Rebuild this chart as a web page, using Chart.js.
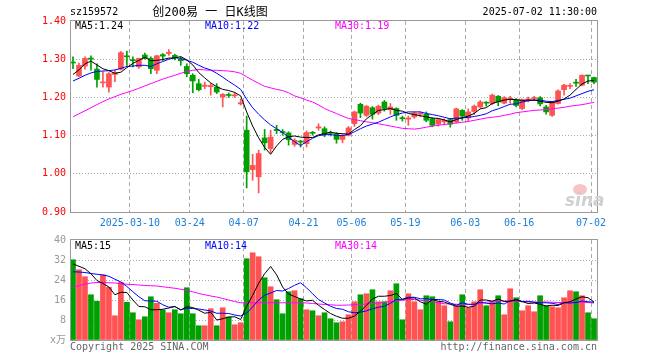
<!DOCTYPE html>
<html><head><meta charset="utf-8">
<script src="https://cdn.jsdelivr.net/npm/chart.js@4.4.1/dist/chart.umd.min.js"></script>
<style>
html,body{margin:0;padding:0;background:#fff;}
#wrap{position:relative;width:660px;height:360px;overflow:hidden;background:#fff;}
canvas{position:absolute;left:0;}
.t{position:absolute;font-family:'DejaVu Sans Mono',monospace;font-size:10px;line-height:12px;white-space:pre;}
</style></head><body>
<div id="wrap">
<canvas id="k" width="660" height="236" style="top:0"></canvas>
<canvas id="v" width="660" height="140" style="top:220px"></canvas>
<div class="t" style="left:70px;top:6px;color:#000">sz159572</div>
<div class="t" style="left:140px;width:140px;top:5px;text-align:center;font-size:12px;line-height:14px;font-family:'DejaVu Sans Mono','Noto Sans CJK SC';color:#000">创200易 一 日K线图</div>
<div class="t" style="right:63px;top:6px;color:#000">2025-07-02 11:30:00</div>
<div class="t" style="left:75px;top:20px;color:#000">MA5:1.24</div>
<div class="t" style="left:205px;top:20px;color:#0000ff">MA10:1.22</div>
<div class="t" style="left:335px;top:20px;color:#ff00ff">MA30:1.19</div>
<div class="t" style="left:75px;top:240px;color:#000">MA5:15</div>
<div class="t" style="left:205px;top:240px;color:#0000ff">MA10:14</div>
<div class="t" style="left:335px;top:240px;color:#ff00ff">MA30:14</div>
<div class="t" style="left:70px;top:341px;color:#666">Copyright 2025 SINA.COM</div>
<div class="t" style="right:63px;top:341px;color:#666">http://finance.sina.com.cn</div>
<div style="position:absolute;left:573px;top:184px;width:14px;height:11px;border-radius:50%;background:#f6c4c4;"></div>
<div class="t" style="left:565px;top:192px;font-family:'DejaVu Sans';font-size:17px;line-height:17px;font-style:italic;font-weight:bold;color:#d0d0d0">sina</div>
</div>
<script>
const dates = ['2025-02-24','2025-02-25','2025-02-26','2025-02-27','2025-02-28','2025-03-03','2025-03-04','2025-03-05','2025-03-06','2025-03-07',
'2025-03-10','2025-03-11','2025-03-12','2025-03-13','2025-03-14','2025-03-17','2025-03-18','2025-03-19','2025-03-20','2025-03-21',
'2025-03-24','2025-03-25','2025-03-26','2025-03-27','2025-03-28','2025-03-31','2025-04-01','2025-04-02','2025-04-03','2025-04-07',
'2025-04-08','2025-04-09','2025-04-10','2025-04-11','2025-04-14','2025-04-15','2025-04-16','2025-04-17','2025-04-18','2025-04-21',
'2025-04-22','2025-04-23','2025-04-24','2025-04-25','2025-04-28','2025-04-29','2025-04-30','2025-05-06','2025-05-07','2025-05-08',
'2025-05-09','2025-05-12','2025-05-13','2025-05-14','2025-05-15','2025-05-16','2025-05-19','2025-05-20','2025-05-21','2025-05-22',
'2025-05-23','2025-05-26','2025-05-27','2025-05-28','2025-05-29','2025-05-30','2025-06-03','2025-06-04','2025-06-05','2025-06-06',
'2025-06-09','2025-06-10','2025-06-11','2025-06-12','2025-06-13','2025-06-16','2025-06-17','2025-06-18','2025-06-19','2025-06-20',
'2025-06-23','2025-06-24','2025-06-25','2025-06-26','2025-06-27','2025-06-30','2025-07-01','2025-07-02'];

const tickLabels = ['2025-03-10','03-24','04-07','04-21','05-06','05-19','06-03','06-16','07-02'];

const opens = [1.292,1.256,1.282,1.303,1.274,1.238,1.227,1.260,1.274,1.309,
1.299,1.280,1.311,1.302,1.271,1.312,1.315,1.310,1.300,1.281,
1.258,1.236,1.229,1.228,1.227,1.201,1.207,1.204,1.183,1.114,
1.011,0.992,1.094,1.066,1.116,1.110,1.107,1.077,1.085,1.079,
1.108,1.120,1.118,1.108,1.105,1.090,1.101,1.131,1.182,1.153,
1.173,1.159,1.188,1.168,1.171,1.147,1.143,1.149,1.156,1.156,
1.144,1.130,1.136,1.142,1.136,1.166,1.146,1.163,1.175,1.187,
1.184,1.203,1.185,1.195,1.194,1.171,1.193,1.197,1.199,1.175,
1.153,1.184,1.220,1.229,1.240,1.232,1.258,1.252];

const highs = [1.306,1.290,1.306,1.309,1.288,1.267,1.265,1.271,1.320,1.321,
1.306,1.303,1.316,1.306,1.310,1.315,1.325,1.313,1.305,1.288,
1.262,1.247,1.240,1.236,1.236,1.210,1.212,1.212,1.196,1.151,
1.051,1.062,1.116,1.114,1.127,1.116,1.110,1.092,1.088,1.112,
1.111,1.131,1.123,1.112,1.108,1.103,1.124,1.164,1.185,1.179,
1.176,1.180,1.192,1.184,1.173,1.151,1.151,1.162,1.162,1.162,
1.147,1.145,1.144,1.145,1.172,1.168,1.170,1.180,1.192,1.189,
1.209,1.205,1.202,1.203,1.197,1.196,1.201,1.203,1.202,1.179,
1.190,1.220,1.234,1.236,1.247,1.259,1.258,1.253];

const lows = [1.275,1.254,1.274,1.271,1.227,1.227,1.214,1.241,1.272,1.284,
1.280,1.276,1.300,1.262,1.262,1.297,1.310,1.298,1.284,1.254,
1.212,1.217,1.223,1.206,1.210,1.175,1.200,1.200,1.180,0.963,
0.983,0.950,1.062,1.055,1.105,1.101,1.075,1.072,1.070,1.070,
1.101,1.114,1.097,1.099,1.080,1.081,1.099,1.124,1.147,1.150,
1.143,1.155,1.164,1.156,1.140,1.138,1.127,1.145,1.149,1.136,
1.123,1.125,1.128,1.122,1.133,1.140,1.139,1.155,1.172,1.177,
1.181,1.178,1.183,1.185,1.175,1.168,1.188,1.192,1.178,1.156,
1.150,1.182,1.206,1.223,1.229,1.230,1.236,1.236];

const closes = [1.290,1.284,1.302,1.300,1.247,1.240,1.262,1.265,1.317,1.306,
1.296,1.302,1.303,1.275,1.309,1.308,1.318,1.304,1.296,1.262,
1.243,1.220,1.232,1.231,1.214,1.208,1.205,1.206,1.186,1.005,
1.022,1.053,1.081,1.096,1.113,1.108,1.089,1.088,1.083,1.108,
1.106,1.123,1.103,1.106,1.090,1.101,1.120,1.162,1.159,1.177,
1.156,1.177,1.171,1.175,1.153,1.144,1.146,1.159,1.158,1.140,
1.127,1.142,1.140,1.130,1.170,1.151,1.162,1.177,1.188,1.185,
1.206,1.188,1.199,1.198,1.179,1.194,1.196,1.199,1.183,1.162,
1.188,1.217,1.232,1.231,1.237,1.258,1.256,1.240];

const ma5 = [1.260,1.272,1.288,1.295,1.285,1.275,1.270,1.263,1.266,1.278,
1.289,1.297,1.305,1.296,1.297,1.299,1.303,1.303,1.307,1.298,
1.285,1.265,1.251,1.238,1.228,1.221,1.218,1.213,1.204,1.162,
1.125,1.094,1.069,1.051,1.073,1.090,1.097,1.099,1.096,1.095,
1.095,1.102,1.105,1.109,1.106,1.105,1.104,1.116,1.126,1.144,
1.155,1.166,1.168,1.171,1.166,1.164,1.158,1.155,1.152,1.149,
1.146,1.145,1.141,1.136,1.142,1.147,1.151,1.158,1.170,1.173,
1.184,1.189,1.193,1.195,1.194,1.192,1.193,1.193,1.190,1.187,
1.186,1.190,1.196,1.206,1.221,1.235,1.243,1.244];

const ma10 = [1.243,1.250,1.258,1.264,1.268,1.269,1.270,1.272,1.276,1.281,
1.282,1.284,1.284,1.281,1.288,1.294,1.300,1.304,1.302,1.297,
1.292,1.284,1.277,1.272,1.263,1.253,1.242,1.232,1.221,1.195,
1.173,1.156,1.141,1.128,1.118,1.108,1.096,1.084,1.074,1.084,
1.093,1.100,1.102,1.103,1.100,1.100,1.103,1.110,1.118,1.125,
1.130,1.135,1.142,1.149,1.155,1.159,1.162,1.162,1.162,1.158,
1.155,1.152,1.148,1.144,1.146,1.146,1.148,1.150,1.153,1.157,
1.165,1.170,1.176,1.182,1.183,1.188,1.191,1.193,1.193,1.190,
1.189,1.192,1.195,1.198,1.204,1.210,1.216,1.220];

const ma30 = [1.149,1.157,1.165,1.173,1.181,1.189,1.196,1.202,1.208,1.213,
1.218,1.224,1.230,1.236,1.242,1.248,1.253,1.258,1.263,1.268,
1.271,1.273,1.272,1.271,1.271,1.270,1.269,1.267,1.263,1.254,
1.245,1.237,1.229,1.225,1.221,1.218,1.212,1.204,1.199,1.193,
1.188,1.180,1.171,1.164,1.158,1.151,1.145,1.142,1.139,1.136,
1.134,1.131,1.128,1.125,1.122,1.119,1.118,1.117,1.119,1.122,
1.125,1.127,1.129,1.131,1.133,1.135,1.137,1.140,1.143,1.146,
1.148,1.150,1.153,1.156,1.160,1.162,1.164,1.166,1.167,1.168,
1.170,1.172,1.174,1.177,1.179,1.181,1.184,1.187];

const volumes = [32.1,28.1,25.3,18.1,15.5,26.1,21.1,9.7,23.1,15.1,
10.9,8.1,9.3,17.3,14.7,12.0,10.9,12.1,10.5,20.9,
10.5,5.7,5.7,12.5,5.7,12.9,9.2,6.1,6.9,32.5,
34.9,33.3,24.9,21.3,16.1,10.5,19.3,19.7,16.5,12.1,
11.7,9.7,10.9,8.5,6.9,7.3,10.1,15.3,18.1,18.5,
20.1,15.3,15.3,19.7,22.5,8.1,18.5,15.3,12.1,17.7,
17.3,15.3,13.7,7.3,13.7,18.1,12.9,15.3,20.1,13.7,
15.3,17.7,10.1,20.5,16.9,11.7,13.7,11.3,17.7,13.7,
13.3,12.9,16.9,19.7,19.3,17.7,10.9,8.5];

const volMa5 = [30.4,29.5,28.5,26.5,23.8,22.6,21.2,18.1,19.1,19.0,
16.0,13.4,13.3,12.1,12.1,12.3,12.8,13.4,12.0,13.3,
13.0,11.9,10.7,11.1,8.0,8.5,9.2,9.3,8.2,13.5,
17.9,22.7,26.5,29.4,26.1,21.2,18.4,17.4,16.4,15.6,
15.9,13.9,12.2,10.6,9.5,8.7,8.7,9.6,11.5,13.9,
16.4,17.5,17.5,17.8,18.6,16.2,16.8,16.8,15.3,14.3,
16.2,15.5,15.2,14.3,13.5,13.6,13.1,13.5,16.0,16.0,
15.5,16.4,15.4,15.5,16.1,15.4,14.6,14.8,14.3,13.6,
13.9,13.8,14.9,15.3,16.4,17.3,16.9,15.2];

const volMa10 = [27.3,27.2,27.0,26.6,26.3,26.0,25.5,24.3,23.2,21.4,
19.3,17.3,15.7,15.6,15.5,14.1,13.1,13.4,12.1,12.7,
12.6,12.4,12.0,11.6,10.7,10.7,10.6,10.0,9.6,10.8,
13.2,16.0,17.9,18.8,19.8,19.6,20.6,21.9,22.9,20.9,
18.5,16.2,14.8,13.5,12.6,12.3,11.3,10.9,11.1,11.7,
12.5,13.1,13.5,14.7,16.2,16.3,17.1,17.1,16.5,16.5,
16.2,16.2,16.0,14.8,13.9,14.9,14.3,14.3,15.1,14.7,
14.5,14.8,14.4,15.7,16.1,15.4,15.5,15.1,14.9,14.9,
14.7,14.2,14.9,14.8,15.0,15.6,15.3,15.1];

const volMa30 = [21.0,21.8,22.4,22.8,23.0,23.0,22.9,22.8,22.5,22.3,
22.2,22.0,21.8,21.7,21.6,21.3,21.0,20.7,20.3,19.9,
19.3,18.6,18.1,17.6,17.2,16.6,16.0,15.4,14.9,14.9,
14.9,14.9,14.9,14.9,14.9,14.9,14.9,14.9,14.9,14.8,
14.6,14.4,14.2,14.1,13.9,13.9,14.0,14.1,14.2,14.4,
14.6,14.8,15.1,15.4,15.6,15.9,16.2,16.2,15.9,15.6,
15.3,14.9,14.5,14.4,14.3,14.2,14.2,14.2,14.6,15.1,
15.5,15.6,15.6,15.6,15.5,15.3,15.2,15.2,15.2,15.2,
15.1,15.0,15.0,15.1,15.2,15.1,15.0,14.8];

const priceTicks = [0.9, 1.0, 1.1, 1.2, 1.3, 1.4];
const volTicks = [0, 8, 16, 24, 32, 40];

const RED = '#ff5252', GREEN = '#00a000';
const GRID = '#aaaaaa', FRAME = '#999999';
const MONO = "'DejaVu Sans Mono', 'Noto Sans CJK SC', monospace";
const colors = closes.map((c, i) => c >= opens[i] ? RED : GREEN);

function labelFor(i) {
  const d = dates[i];
  return tickLabels.find(t => d.endsWith(t));
}
const isTickIdx = i => i !== undefined && i < dates.length && labelFor(i) !== undefined;

const framePlugin = {
  id: 'frame',
  afterDatasetsDraw(chart) {
    const {ctx, chartArea: a} = chart;
    ctx.save();
    ctx.strokeStyle = FRAME;
    ctx.lineWidth = 1;
    ctx.strokeRect(a.left + 0.5, a.top - 0.5, a.right - a.left, a.bottom - a.top + 1);
    ctx.restore();
  }
};

function xScale(showLabels) {
  return {
    offset: true,
    grid: {
      offset: true, drawTicks: false,
      color: c => isTickIdx(c.index) ? GRID : 'rgba(0,0,0,0)'
    },
    border: {display: false, dash: [4, 3]},
    ticks: {
      display: showLabels, autoSkip: false, maxRotation: 0, minRotation: 0,
      padding: 5, labelOffset: -3, color: '#1c7fd6',
      font: {family: MONO, size: 10},
      callback: (v, i) => labelFor(i) || ''
    },
    afterFit: s => { s.height = showLabels ? 24 : 0; }
  };
}

const lineDs = (data, color) => ({
  type: 'line', data, borderColor: color, borderWidth: 1,
  pointRadius: 0, tension: 0, order: 0
});

new Chart(document.getElementById('k'), {
  type: 'bar',
  data: {
    labels: dates,
    datasets: [
      lineDs(ma5, '#000000'),
      lineDs(ma10, '#0000ff'),
      lineDs(ma30, '#ff00ff'),
      {type: 'bar', data: lows.map((l, i) => [l, highs[i]]), backgroundColor: colors,
       barThickness: 1, grouped: false, order: 2},
      {type: 'bar', data: opens.map((o, i) => [o, closes[i]]), backgroundColor: colors,
       barThickness: 5, minBarLength: 1, grouped: false, order: 1}
    ]
  },
  options: {
    responsive: false, animation: false, events: [],
    layout: {padding: {top: 21, right: 63, left: 0, bottom: 0}},
    plugins: {legend: {display: false}, tooltip: {enabled: false}},
    scales: {
      x: xScale(true),
      y: {
        min: priceTicks[0], max: priceTicks[priceTicks.length - 1],
        afterBuildTicks: s => { s.ticks = priceTicks.map(v => ({value: v})); },
        ticks: {padding: 4, color: '#ff0000', font: {family: MONO, size: 10},
                callback: v => Number(v).toFixed(2)},
        grid: {drawTicks: false,
               color: c => (c.tick && (c.tick.value === priceTicks[0] || c.tick.value === priceTicks[priceTicks.length - 1])) ? 'rgba(0,0,0,0)' : GRID},
        border: {display: false, dash: [1, 2]},
        afterFit: s => { s.width = 70; }
      }
    }
  },
  plugins: [framePlugin]
});

new Chart(document.getElementById('v'), {
  type: 'bar',
  data: {
    labels: dates,
    datasets: [
      lineDs(volMa5, '#000000'),
      lineDs(volMa10, '#0000ff'),
      lineDs(volMa30, '#ff00ff'),
      {type: 'bar', data: volumes, backgroundColor: colors, barThickness: 5, order: 1}
    ]
  },
  options: {
    responsive: false, animation: false, events: [],
    layout: {padding: {top: 20, right: 63, left: 0, bottom: 20}},
    plugins: {legend: {display: false}, tooltip: {enabled: false}},
    scales: {
      x: xScale(false),
      y: {
        min: volTicks[0], max: volTicks[volTicks.length - 1],
        afterBuildTicks: s => { s.ticks = volTicks.map(v => ({value: v})); },
        ticks: {padding: 4, color: '#999999', font: {family: MONO, size: 10},
                callback: v => v === 0 ? 'x万' : String(v)},
        grid: {drawTicks: false,
               color: c => (c.tick && (c.tick.value === volTicks[0] || c.tick.value === volTicks[volTicks.length - 1])) ? 'rgba(0,0,0,0)' : GRID},
        border: {display: false, dash: [1, 2]},
        afterFit: s => { s.width = 70; }
      }
    }
  },
  plugins: [framePlugin]
});
</script>
</body></html>
